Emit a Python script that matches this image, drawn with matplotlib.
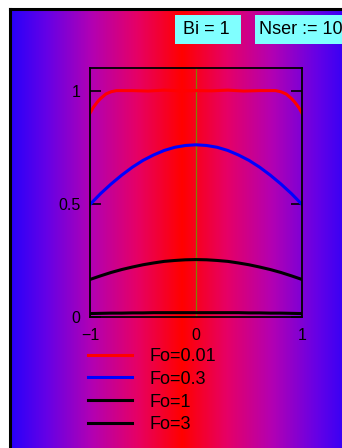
import numpy as np
import matplotlib
matplotlib.use("Agg")
import matplotlib.pyplot as plt
from matplotlib.colors import LinearSegmentedColormap
from matplotlib.patches import Rectangle

plt.rcParams['font.family'] = ['Liberation Sans', 'DejaVu Sans']

# datos
x_red = [-1.0, -0.97, -0.93, -0.9, -0.85, -0.8, -0.75, -0.6, -0.45, -0.3, -0.15, 0.0,
         0.15, 0.3, 0.45, 0.6, 0.75, 0.8, 0.85, 0.9, 0.93, 0.97, 1.0]
fo001 = [0.90, 0.925, 0.95, 0.965, 0.985, 0.995, 1.0, 1.0, 0.998, 1.002, 0.999, 1.0,
         0.999, 1.002, 0.998, 1.0, 1.0, 0.995, 0.985, 0.965, 0.95, 0.925, 0.90]

x = [-1.0, -0.9, -0.8, -0.7, -0.6, -0.5, -0.4, -0.3, -0.2, -0.1, 0.0,
     0.1, 0.2, 0.3, 0.4, 0.5, 0.6, 0.7, 0.8, 0.9, 1.0]
fo03 = [0.496, 0.544, 0.587, 0.626, 0.661, 0.691, 0.715, 0.735, 0.749, 0.757, 0.760,
        0.757, 0.749, 0.735, 0.715, 0.691, 0.661, 0.626, 0.587, 0.544, 0.496]
fo1 = [0.164, 0.180, 0.195, 0.208, 0.219, 0.229, 0.237, 0.244, 0.248, 0.251, 0.252,
       0.251, 0.248, 0.244, 0.237, 0.229, 0.219, 0.208, 0.195, 0.180, 0.164]
fo3 = [0.013, 0.014, 0.015, 0.015, 0.016, 0.016, 0.017, 0.017, 0.017, 0.017, 0.017,
       0.017, 0.017, 0.017, 0.017, 0.016, 0.016, 0.015, 0.015, 0.014, 0.013]

labels = ['Fo=0.01', 'Fo=0.3', 'Fo=1', 'Fo=3']
yticks = [0, 0.5, 1]
ytick_labels = ['0', '0.5', '1']
xticks = [-1, 0, 1]

W, H = 342, 448
fig = plt.figure(figsize=(W / 100, H / 100), dpi=100)

# fondo degradado azul-rojo-azul
bg = fig.add_axes([10 / W, 0, 1 - 10 / W, 1 - 9 / H])
cmap = LinearSegmentedColormap.from_list('rb', [
    (0.0, (1.0, 0.0, 0.0)),
    (0.25, (0.90, 0.0, 0.40)),
    (0.5, (0.70, 0.0, 0.70)),
    (0.75, (0.40, 0.0, 0.90)),
    (1.0, (0.10, 0.0, 1.0))])
px = np.arange(10, W) + 0.5
grad = np.abs(px - 182) / 180
bg.imshow(grad[None, :], aspect='auto', cmap=cmap, vmin=0, vmax=1,
          extent=[0, 1, 0, 1])
bg.set_xticks([])
bg.set_yticks([])
bg.spines['right'].set_visible(False)
bg.spines['bottom'].set_visible(False)
for s in ['left', 'top']:
    bg.spines[s].set_linewidth(2.2)

# cuadros de texto
fig.add_artist(Rectangle((175 / W, 1 - 44 / H), 66 / W, 29 / H,
                         transform=fig.transFigure, facecolor='#80ffff', edgecolor='none'))
fig.add_artist(Rectangle((255 / W, 1 - 44 / H), 100 / W, 29 / H,
                         transform=fig.transFigure, facecolor='#80ffff', edgecolor='none'))
fig.text(206 / W, 1 - 30 / H, 'Bi = 1', fontsize=13, ha='center', va='center')
fig.text(259 / W, 1 - 30 / H, 'Nser := 10', fontsize=13, ha='left', va='center')

ax = fig.add_axes([90 / W, 1 - 316.5 / H, 212 / W, 248.5 / H])
ax.set_facecolor('none')
ax.axvline(0, color='#808000', lw=0.9, zorder=1)
ax.plot(x_red, fo001, color='#ff0000', lw=2.2, label=labels[0])
ax.plot(x, fo03, color='#0000ff', lw=2.2, label=labels[1])
ax.plot(x, fo1, color='black', lw=2.2, label=labels[2])
ax.plot(x, fo3, color='black', lw=2.2, label=labels[3])
ax.set_xlim(-1, 1)
ax.set_ylim(0, 1.1)
ax.set_yticks(yticks)
ax.set_yticklabels(ytick_labels)
ax.set_xticks(xticks)
ax.tick_params(axis='y', direction='in', length=8, width=1.2, left=True, right=True,
               labelsize=11.5, pad=7)
ax.tick_params(axis='x', length=0, labelsize=11.5, pad=8)
for s in ax.spines.values():
    s.set_linewidth(1.3)

ax.legend(loc='upper left', bbox_to_anchor=(88 / W, 1 - 348 / H),
          bbox_transform=fig.transFigure, frameon=False, fontsize=13,
          handlelength=2.45, handletextpad=0.95, labelspacing=0.32,
          borderaxespad=0, borderpad=0)

plt.savefig("out.png", dpi=100)
